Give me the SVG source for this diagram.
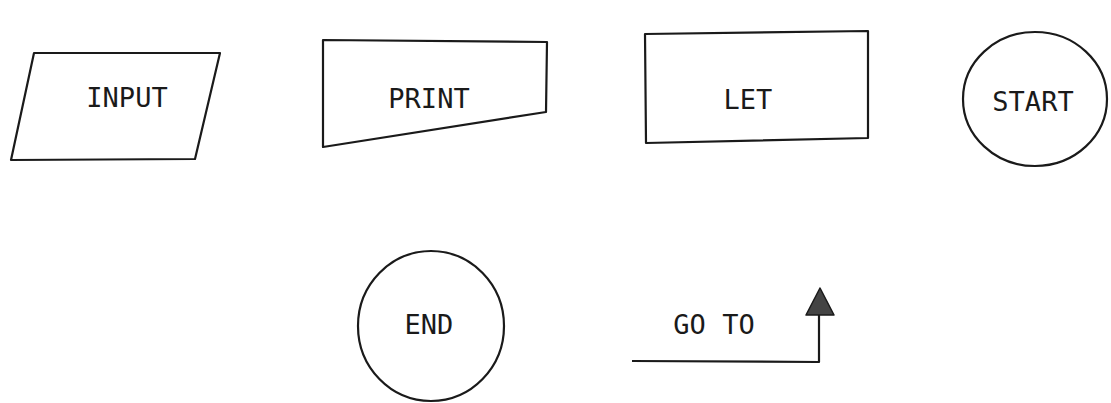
<svg xmlns="http://www.w3.org/2000/svg" width="1111" height="403" viewBox="0 0 1111 403">
<style>
.s{fill:none;stroke:#1a1a1a;stroke-width:2.2;stroke-linejoin:round}
.t{font-family:"DejaVu Sans Mono","Liberation Mono",monospace;font-size:27px;fill:#1a1a1a;text-anchor:middle}
</style>
<rect width="1111" height="403" fill="#fff"/>
<g id="input"><polygon class="s" points="34,53 220,53 195,159 11,160"/><text class="t" x="127" y="107">INPUT</text></g>
<g id="print"><polygon class="s" points="323,40 547,42 546,112 323,147"/><text class="t" x="429" y="108">PRINT</text></g>
<g id="let"><polygon class="s" points="645,34 868,31 868,138 646,143"/><text class="t" x="748" y="109">LET</text></g>
<g id="start"><ellipse class="s" cx="1035" cy="99" rx="72" ry="67"/><text class="t" x="1033" y="111">START</text></g>
<g id="end"><ellipse class="s" cx="431" cy="326" rx="73" ry="75"/><text class="t" x="429" y="334">END</text></g>
<g id="goto"><text class="t" x="714" y="334">GO TO</text></g>
<g id="connectors"><polyline class="s" points="632,361 819,362 819,312"/><polygon points="820,288 806,315 834,315" fill="#444" stroke="#1a1a1a" stroke-width="1.5" stroke-linejoin="round"/></g>
</svg>
